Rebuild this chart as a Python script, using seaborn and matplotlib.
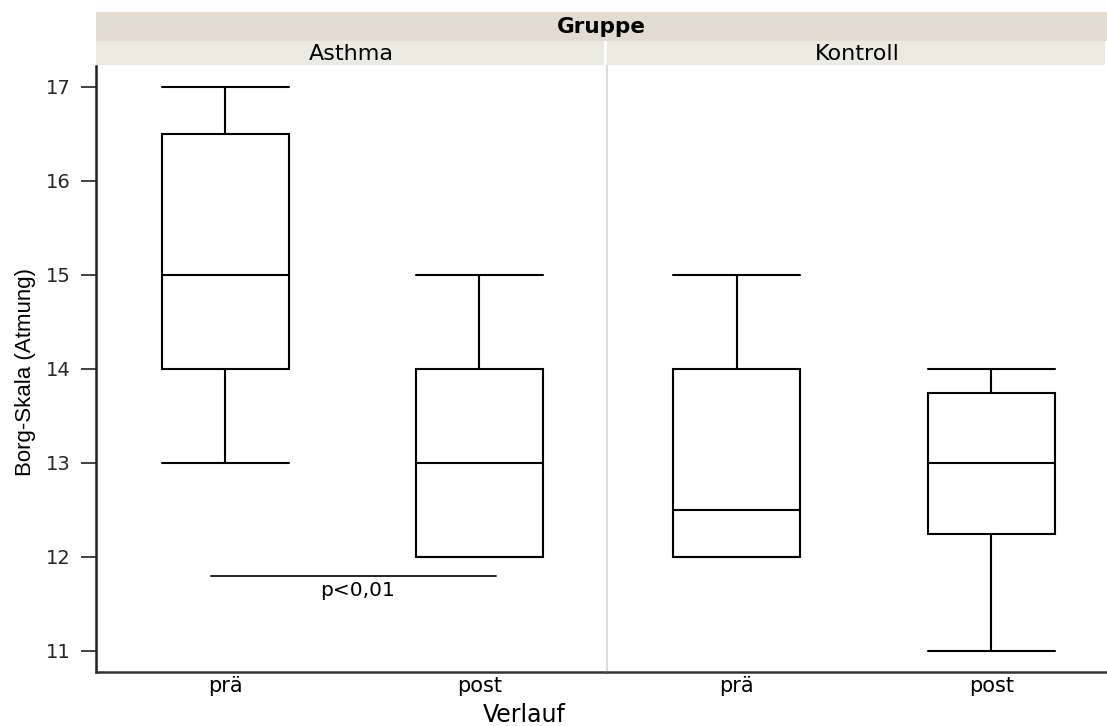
import matplotlib
matplotlib.use("Agg")
import matplotlib.pyplot as plt
from matplotlib.patches import Rectangle
import seaborn as sns
import pandas as pd

# ---- data (five-number summaries) ----
phases = ["prä", "post"]
groups = ["Asthma", "Kontroll"]
asthma_pre = [13, 14, 15, 16.5, 17]
asthma_post = [12, 12, 13, 14, 15]
kontroll_pre = [12, 12, 12.5, 14, 15]
kontroll_post = [11, 12.25, 13, 13.75, 14]
y_ticks = [11, 12, 13, 14, 15, 16, 17]
p_label = "p<0,01"
p_line_y = 11.8

rows = []
for g, pre, post in [("Asthma", asthma_pre, asthma_post), ("Kontroll", kontroll_pre, kontroll_post)]:
    for v in pre:
        rows.append((g, "prä", v))
    for v in post:
        rows.append((g, "post", v))
df = pd.DataFrame(rows, columns=["Gruppe", "Verlauf", "Borg"])

sns.set_theme(style="white")
plt.rcParams["font.family"] = ["DejaVu Sans"]

W, H = 1107, 726
fig = plt.figure(figsize=(W / 100, H / 100), dpi=100)

def fx(px):
    return px / W

def fy(py):
    return 1 - py / H

ax_top, ax_bot = 66, 672
ylim = (11 - (ax_bot - 651) / 94, 17 + (87 - ax_top) / 94)

panels = [("Asthma", 96, 606, (-0.51, 1.5)), ("Kontroll", 607, 1107, (-0.51, 1.455))]
axes = []
for g, x0, x1, xl in panels:
    ax = fig.add_axes([fx(x0), fy(ax_bot), fx(x1 - x0), (ax_bot - ax_top) / H])
    sub = df[df["Gruppe"] == g]
    sns.boxplot(data=sub, x="Verlauf", y="Borg", order=phases, ax=ax,
                width=0.5, color="white", linecolor="black", linewidth=1.5,
                whis=1.5, showfliers=False, capwidths=0.5)
    ax.set_xlim(*xl)
    ax.set_ylim(*ylim)
    ax.set_xlabel("")
    ax.set_ylabel("")
    for s in ["top", "right"]:
        ax.spines[s].set_visible(False)
    ax.spines["bottom"].set_color("#333333")
    ax.spines["bottom"].set_linewidth(1.8)
    ax.tick_params(axis="x", length=0, pad=3, labelsize=15, colors="black")
    axes.append(ax)

ax0, ax1 = axes
ax0.spines["left"].set_color("#222222")
ax0.spines["left"].set_linewidth(1.8)
ax0.set_yticks(y_ticks)
ax0.set_yticklabels([str(t) for t in y_ticks])
ax0.tick_params(axis="y", left=True, length=11, width=1.3, color="#333333", pad=7, labelsize=14)
ax1.spines["left"].set_color("#dddddd")
ax1.spines["left"].set_linewidth(1.5)
ax1.set_yticks([])

# significance annotation
ax0.plot([-0.055, 1.067], [p_line_y, p_line_y], color="#222222", lw=1.4)
ax0.text(0.52, p_line_y - 0.06, p_label, ha="center", va="top", fontsize=14.5, color="black")

# strips
fig.patches.append(Rectangle((fx(96), fy(41)), fx(1107 - 96), (41 - 12) / H,
                             transform=fig.transFigure, facecolor="#e3dcd3", edgecolor="none"))
fig.text(fx((96 + 1107) / 2), fy(27), "Gruppe", ha="center", va="center",
         fontsize=15.5, fontweight="bold", color="black")
for g, x0, x1, _ in panels:
    fig.patches.append(Rectangle((fx(x0), fy(65)), fx(x1 - x0 - 2), (65 - 41) / H,
                                 transform=fig.transFigure, facecolor="#ebeae1", edgecolor="none"))
    fig.text(fx((x0 + x1) / 2), fy(54), g, ha="center", va="center", fontsize=16, color="black")

fig.text(fx(524), fy(715), "Verlauf", ha="center", va="center", fontsize=17, color="black")
fig.text(fx(26), fy(372), "Borg-Skala (Atmung)", ha="center", va="center", rotation=90,
         fontsize=16, color="black",
         family=["Liberation Sans", "DejaVu Sans"])

fig.savefig("out.png", dpi=100)
